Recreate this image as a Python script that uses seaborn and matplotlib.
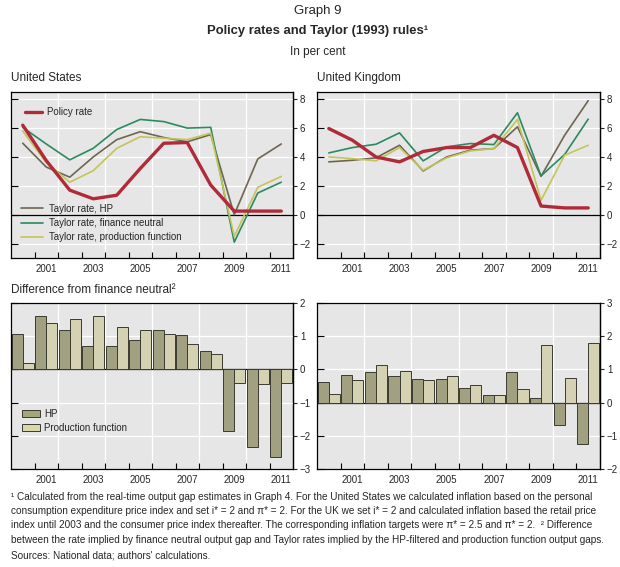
import numpy as np
import pandas as pd
import matplotlib
matplotlib.use("Agg")
import matplotlib.pyplot as plt
import seaborn as sns
from matplotlib.patches import Patch

sns.set_style("white")
plt.rcParams['font.family'] = ['Liberation Sans', 'DejaVu Sans']

years = list(range(2000, 2012))

us_policy = [6.2, 3.75, 1.7, 1.1, 1.35, 3.2, 4.95, 5.0, 2.05, 0.25, 0.25, 0.25]
us_hp = [4.95, 3.3, 2.6, 4.0, 5.2, 5.75, 5.35, 5.05, 5.55, 0.0, 3.86, 4.9]
us_fn = [6.05, 4.9, 3.8, 4.6, 5.9, 6.6, 6.45, 6.0, 6.05, -1.9, 1.5, 2.25]
us_pf = [5.8, 3.6, 2.25, 3.05, 4.6, 5.4, 5.3, 5.2, 5.65, -1.5, 1.9, 2.65]

uk_policy = [5.97, 5.16, 4.0, 3.66, 4.38, 4.65, 4.65, 5.5, 4.65, 0.6, 0.47, 0.47]
uk_hp = [3.66, 3.77, 3.94, 4.81, 3.03, 4.0, 4.47, 4.58, 6.09, 2.66, 5.5, 7.9]
uk_fn = [4.28, 4.65, 4.88, 5.67, 3.73, 4.7, 4.93, 4.86, 7.06, 2.69, 4.17, 6.62]
uk_pf = [4.0, 3.89, 3.73, 4.65, 3.08, 3.94, 4.42, 4.58, 6.6, 1.0, 4.12, 4.81]

us_diff_hp = [1.07, 1.62, 1.2, 0.7, 0.7, 0.89, 1.19, 1.05, 0.54, -1.85, -2.35, -2.63]
us_diff_pf = [0.2, 1.41, 1.52, 1.6, 1.27, 1.19, 1.07, 0.77, 0.45, -0.4, -0.43, -0.4]
uk_diff_hp = [0.62, 0.84, 0.91, 0.81, 0.7, 0.71, 0.45, 0.23, 0.91, 0.15, -0.68, -1.25]
uk_diff_pf = [0.25, 0.69, 1.13, 0.95, 0.68, 0.81, 0.53, 0.23, 0.41, 1.72, 0.73, 1.81]

line_names = ["Taylor rate, HP", "Taylor rate, finance neutral",
              "Taylor rate, production function", "Policy rate"]
line_colors = {"Taylor rate, HP": "#6e6650",
               "Taylor rate, finance neutral": "#2b8a5e",
               "Taylor rate, production function": "#c4c45a",
               "Policy rate": "#b02a3a"}
line_widths = {"Taylor rate, HP": 1.2, "Taylor rate, finance neutral": 1.2,
               "Taylor rate, production function": 1.2, "Policy rate": 2.4}
bar_names = ["HP", "Production function"]
bar_colors = {"HP": "#a6a67c", "Production function": "#dbd7ad"}

W, H = 620, 567
fig = plt.figure(figsize=(W / 100, H / 100), dpi=100)


def rect(l, t, r, b):
    return [l / W, 1 - b / H, (r - l) / W, (b - t) / H]


ax_us = fig.add_axes(rect(11, 92, 293, 258))
ax_uk = fig.add_axes(rect(317, 92, 600, 258))
ax_usd = fig.add_axes(rect(11, 303, 293, 469))
ax_ukd = fig.add_axes(rect(317, 303, 600, 469))

FS = 7


def style(ax, ylim, yticks, grid_y):
    ax.set_facecolor("#e6e6e6")
    ax.set_xlim(1999.5, 2011.5)
    ax.set_ylim(*ylim)
    ax.set_xlabel("")
    ax.set_ylabel("")
    ax.set_xticks(np.arange(2000.5, 2011, 1))
    ax.set_xticklabels([])
    ax.set_xticks(list(range(2001, 2012, 2)), minor=True)
    ax.set_xticklabels([str(y) for y in range(2001, 2012, 2)], minor=True)
    ax.tick_params(axis='x', which='major', direction='in', length=4, width=0.8,
                   color='black', bottom=True, top=False)
    ax.tick_params(axis='x', which='minor', length=0, labelsize=FS, pad=4,
                   bottom=True, top=False)
    ax.set_yticks(yticks)
    ax.set_yticklabels([])
    ax.tick_params(axis='y', which='major', direction='in', length=5, width=0.8,
                   color='black', left=True, right=False)
    sec = ax.secondary_yaxis('right')
    sec.set_yticks(yticks)
    sec.tick_params(direction='out', length=3, width=0.8, labelsize=FS, pad=2)
    sec.spines['right'].set_linewidth(0.9)
    for v in grid_y:
        ax.axhline(v, color='white', lw=0.9, zorder=0.5)
    for xg in [2001.5, 2003.5, 2005.5, 2007.5, 2009.5]:
        ax.axvline(xg, color='white', lw=0.9, zorder=0.5)
    ax.axhline(0, color='black', lw=0.9, zorder=1.5)
    for s in ax.spines.values():
        s.set_color('black')
        s.set_linewidth(0.9)


def draw_lines(ax, policy, hp, fn, pf):
    df = pd.DataFrame({"year": years * 4,
                       "series": [n for n in line_names for _ in years],
                       "value": hp + fn + pf + policy})
    for name in line_names:
        sub = df[df["series"] == name]
        sns.lineplot(data=sub, x="year", y="value", ax=ax, color=line_colors[name],
                     lw=line_widths[name], label=name, zorder=3 if name == "Policy rate" else 2)
    if ax.get_legend() is not None:
        ax.get_legend().remove()


def draw_bars(ax, hp, pf):
    df = pd.DataFrame({"year": years * 2,
                       "series": [n for n in bar_names for _ in years],
                       "value": hp + pf})
    sns.barplot(data=df, x="year", y="value", hue="series", hue_order=bar_names,
                palette=bar_colors, native_scale=True, width=0.94, errorbar=None,
                edgecolor="#3a3a30", linewidth=0.7, ax=ax, zorder=2)
    if ax.get_legend() is not None:
        ax.get_legend().remove()


draw_lines(ax_us, us_policy, us_hp, us_fn, us_pf)
draw_lines(ax_uk, uk_policy, uk_hp, uk_fn, uk_pf)
draw_bars(ax_usd, us_diff_hp, us_diff_pf)
draw_bars(ax_ukd, uk_diff_hp, uk_diff_pf)

style(ax_us, (-3, 8.5), [-2, 0, 2, 4, 6, 8], [-2, 2, 4, 6, 8])
style(ax_uk, (-3, 8.5), [-2, 0, 2, 4, 6, 8], [-2, 2, 4, 6, 8])
style(ax_usd, (-3, 2), [-3, -2, -1, 0, 1, 2], [-2, -1, 1])
style(ax_ukd, (-2, 3), [-2, -1, 0, 1, 2, 3], [-1, 1, 2])

# legends
h, l = ax_us.get_legend_handles_labels()
hd = dict(zip(l, h))
leg1 = ax_us.legend([hd["Policy rate"]], ["Policy rate"], loc="upper left",
                    bbox_to_anchor=(0.025, 0.95), frameon=False, fontsize=FS,
                    handlelength=1.8, handletextpad=0.5, borderaxespad=0.3)
ax_us.add_artist(leg1)
names3 = line_names[:3]
ax_us.legend([hd[n] for n in names3], names3, loc="lower left",
             bbox_to_anchor=(0.01, 0.055), frameon=False, fontsize=FS,
             handlelength=2.3, handletextpad=0.6, labelspacing=0.42, borderaxespad=0.3)

patches = [Patch(facecolor=bar_colors[n], edgecolor="#3a3a30", linewidth=0.7) for n in bar_names]
ax_usd.legend(patches, bar_names, loc="lower left", bbox_to_anchor=(0.015, 0.175),
              frameon=False, fontsize=FS, handlelength=1.8, handleheight=0.65,
              handletextpad=0.5, labelspacing=0.45, borderaxespad=0.3)

# titles and texts
def ftext(x, y, s, **kw):
    fig.text(x / W, 1 - y / H, s, **kw)

ftext(318, 11, "Graph 9", ha="center", va="center", fontsize=9.5)
ftext(318, 31, "Policy rates and Taylor (1993) rules\u00b9", ha="center", va="center",
      fontsize=9.4, fontweight="bold")
ftext(318, 52, "In per cent", ha="center", va="center", fontsize=8.5)
ftext(11, 78, "United States", ha="left", va="center", fontsize=8.5)
ftext(317, 78, "United Kingdom", ha="left", va="center", fontsize=8.5)
ftext(11, 290, "Difference from finance neutral\u00b2", ha="left", va="center", fontsize=8.5)

foot = [
    "\u00b9 Calculated from the real-time output gap estimates in Graph 4. For the United States we calculated inflation based on the personal",
    "consumption expenditure price index and set i* = 2 and \u03c0* = 2. For the UK we set i* = 2 and calculated inflation based the retail price",
    "index until 2003 and the consumer price index thereafter. The corresponding inflation targets were \u03c0* = 2.5 and \u03c0* = 2.  \u00b2 Difference",
    "between the rate implied by finance neutral output gap and Taylor rates implied by the HP-filtered and production function output gaps.",
]
for i, s in enumerate(foot):
    ftext(11, 500 + i * 14.2, s, ha="left", va="baseline", fontsize=7.2)
ftext(11, 558, "Sources: National data; authors' calculations.", ha="left", va="baseline", fontsize=7.2)

fig.savefig("out.png", dpi=100)
